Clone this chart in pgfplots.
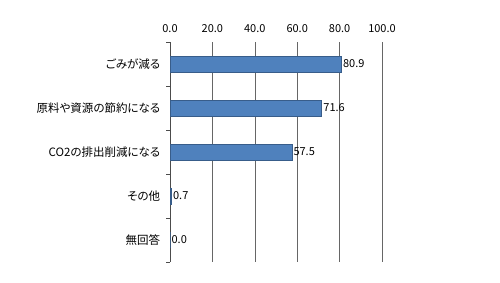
\documentclass[border=0pt]{standalone}
\usepackage{pgfplots}
\pgfplotsset{compat=1.18}
\usepackage{fontspec}
\setmainfont{Noto Sans CJK JP}[RawFeature=+palt]
\definecolor{barfill}{HTML}{4F81BD}
\definecolor{barline}{HTML}{385D8A}
\begin{document}
\begin{tikzpicture}[x=1pt,y=1pt]
\useasboundingbox (0,0) rectangle (500,282);
\begin{axis}[
  at={(170pt,20pt)}, anchor=south west,
  scale only axis, width=212pt, height=220pt,
  xbar, bar width=16pt,
  xmin=0, xmax=100, ymin=-0.5, ymax=4.5,
  y dir=reverse,
  axis x line*=top, axis y line*=left,
  x axis line style={draw=none},
  y axis line style={draw=black!70, line width=0.6pt},
  xtick={0,20,40,60,80,100},
  /pgf/number format/fixed,
  /pgf/number format/fixed zerofill,
  /pgf/number format/precision=1,
  /pgf/number format/assume math mode=true,
  xmajorgrids, major grid style={draw=black!60, line width=0.6pt},
  x tick style={draw=none},
  ytick={0,1,2,3,4},
  yticklabels={ごみが減る,原料や資源の節約になる,CO2の排出削減になる,その他,無回答},
  y tick style={draw=none},
  minor ytick={-0.5,0.5,1.5,2.5,3.5,4.5},
  minor y tick style={draw=black!70, line width=0.6pt},
  minor tick length=4pt,
  tick align=outside,
  yticklabel style={font=\fontsize{11.5}{13}\selectfont, text=black, xshift=-2pt},
  xticklabel style={font=\fontsize{11}{13}\selectfont, text=black, yshift=2pt},
  nodes near coords,
  point meta=x,
  nodes near coords style={font=\fontsize{11}{13}\selectfont, anchor=west, xshift=-2pt, text=black},
  clip=false,
]
\addplot[fill=barfill, draw=barline, line width=0.6pt] coordinates {(80.9,0) (71.6,1) (57.5,2) (0.7,3) (0.0,4)};
\end{axis}
\end{tikzpicture}
\end{document}
